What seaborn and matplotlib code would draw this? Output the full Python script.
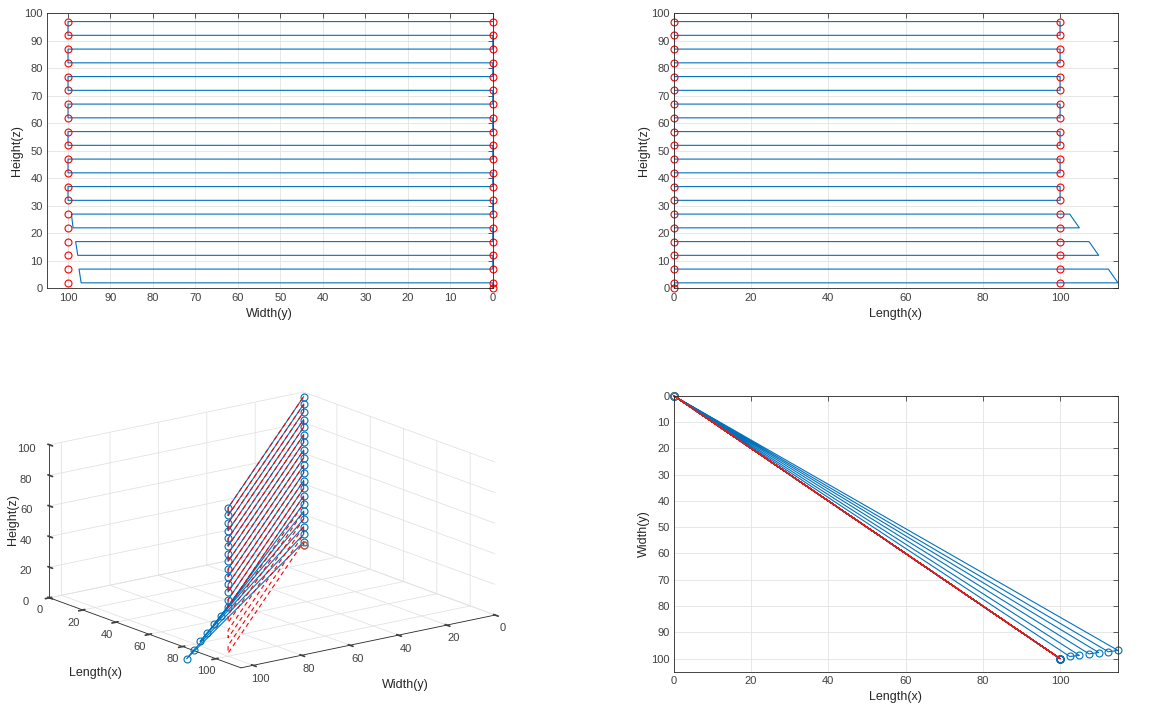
import matplotlib
matplotlib.use('Agg')
import matplotlib.pyplot as plt
import seaborn as sns

# heights (z) of the 20 passes
layer_z = [2, 7, 12, 17, 22, 27, 32, 37, 42, 47, 52, 57, 62, 67, 72, 77, 82, 87, 92, 97]
# where each pass actually ended: length (x) and width (y)
end_x = [115, 112.5, 110, 107.5, 105, 102.5, 100, 100, 100, 100,
         100, 100, 100, 100, 100, 100, 100, 100, 100, 100]
end_y = [96.9, 97.4, 97.7, 98.2, 98.8, 99.2, 100, 100, 100, 100,
         100, 100, 100, 100, 100, 100, 100, 100, 100, 100]
# where each pass should have ended
target_x = [100, 100, 100, 100, 100, 100, 100, 100, 100, 100,
            100, 100, 100, 100, 100, 100, 100, 100, 100, 100]
target_y = [100, 100, 100, 100, 100, 100, 100, 100, 100, 100,
            100, 100, 100, 100, 100, 100, 100, 100, 100, 100]
start_x, start_y, start_z = 0, 0, 0

BLUE = '#0072BD'
RED = '#FF0000'
ORANGE = '#D95319'
TXT = '#262626'


def zigzag(ex, ey):
    # back and forth passes, two layers per loop, returning to the start corner
    xs, ys, zs = [start_x], [start_y], [start_z]
    for k in range(0, len(layer_z), 2):
        pts = [(start_x, start_y, layer_z[k]),
               (ex[k], ey[k], layer_z[k]),
               (ex[k + 1], ey[k + 1], layer_z[k + 1]),
               (start_x, start_y, layer_z[k + 1])]
        for x, y, z in pts:
            xs.append(x)
            ys.append(y)
            zs.append(z)
    return xs, ys, zs


act_x, act_y, act_z = zigzag(end_x, end_y)
ref_x, ref_y, ref_z = zigzag(target_x, target_y)

sns.set_theme(style='white')
plt.rcParams['font.family'] = ['Liberation Sans', 'DejaVu Sans']
plt.rcParams['grid.color'] = '#e3e3e3'
plt.rcParams['grid.linewidth'] = 0.6


def style(ax, xlabel, ylabel):
    ax.set_xlabel(xlabel, fontsize=9, color=TXT, labelpad=4)
    ax.set_ylabel(ylabel, fontsize=9, color=TXT, labelpad=1)
    ax.tick_params(direction='in', top=True, right=True, length=3.5, width=0.6,
                   labelsize=8, colors='#404040', pad=3)
    ax.grid(True, color='#e3e3e3', lw=0.6)
    ax.set_axisbelow(True)
    for s in ax.spines.values():
        s.set_color(TXT)
        s.set_linewidth(0.6)


MS = 5

fig = plt.figure(figsize=(11.63, 7.13), dpi=100)

# Height vs Width
ax1 = fig.add_axes([0.0402, 0.5956, 0.3835, 0.3857])
sns.lineplot(x=act_y, y=act_z, sort=False, estimator=None, color=BLUE, lw=0.8, ax=ax1)
ax1.plot(ref_y, ref_z, 'o', ms=MS, mfc='none', mec=RED, mew=0.8, clip_on=False)
ax1.set_xlim(105, 0)
ax1.set_ylim(0, 100)
ax1.set_xticks(range(0, 101, 10))
ax1.set_yticks(range(0, 101, 10))
style(ax1, 'Width(y)', 'Height(z)')

# Height vs Length
ax2 = fig.add_axes([0.5793, 0.5956, 0.382, 0.3857])
sns.lineplot(x=act_x, y=act_z, sort=False, estimator=None, color=BLUE, lw=0.8, ax=ax2)
ax2.plot(ref_x, ref_z, 'o', ms=MS, mfc='none', mec=RED, mew=0.8, clip_on=False)
ax2.set_xlim(0, 115)
ax2.set_ylim(0, 100)
ax2.set_xticks(range(0, 101, 20))
ax2.set_yticks(range(0, 101, 10))
style(ax2, 'Length(x)', 'Height(z)')

# Width vs Length (top view)
ax4 = fig.add_axes([0.5793, 0.0579, 0.382, 0.3871])
sns.lineplot(x=act_x, y=act_y, sort=False, estimator=None, color=BLUE, lw=0.8,
             marker='o', ms=MS, mfc='none', mec=BLUE, mew=0.8, ax=ax4)
sns.lineplot(x=ref_x, y=ref_y, sort=False, estimator=None, color='#d62020', lw=0.7, ax=ax4)
ax4.plot(ref_x[:1], ref_y[:1], 'o', ms=MS, mfc='none', mec=ORANGE, mew=0.8, clip_on=False)
ax4.set_xlim(0, 115)
ax4.set_ylim(105, 0)
ax4.set_xticks(range(0, 101, 20))
ax4.set_yticks(range(0, 101, 10))
style(ax4, 'Length(x)', 'Width(y)')
for ln in ax4.lines:
    ln.set_clip_on(False)

# 3D view
ax3 = fig.add_axes([-0.02, 0.0, 0.5, 0.5], projection='3d')
ax3.set_proj_type('ortho')
ax3.view_init(elev=16, azim=-37)
ax3.set_box_aspect((2, 2, 1), zoom=1.3)
ax3.plot(act_y, act_x, act_z, '-o', color=BLUE, lw=0.8, ms=MS, mfc='none', mew=0.8)
ax3.plot(ref_x, ref_y, ref_z, '--', color=RED, lw=0.8, dashes=(4, 3))
ax3.plot(ref_x[:1], ref_y[:1], ref_z[:1], 'o', ms=MS, mfc='none', mec=ORANGE, mew=0.8)
ax3.set_xlim(0, 115)
ax3.set_ylim(105, 0)
ax3.set_zlim(0, 100)
ax3.set_xticks(range(0, 101, 20))
ax3.set_yticks(range(0, 101, 20))
ax3.set_zticks(range(0, 101, 20))
ax3.tick_params(labelsize=8, colors='#404040')
ax3.tick_params(axis='x', pad=-3)
ax3.tick_params(axis='y', pad=-3)
ax3.tick_params(axis='z', pad=-1)
ax3.zaxis.set_ticks_position('upper')
ax3.zaxis.set_label_position('upper')
for axis in (ax3.xaxis, ax3.yaxis, ax3.zaxis):
    axis.set_rotate_label(False)
ax3.set_xlabel('Length(x)', fontsize=9, color=TXT, rotation=0, labelpad=5)
ax3.set_ylabel('Width(y)', fontsize=9, color=TXT, rotation=0, labelpad=5)
ax3.set_zlabel('Height(z)', fontsize=9, color=TXT, rotation=90, labelpad=-10)
for axis in (ax3.xaxis, ax3.yaxis, ax3.zaxis):
    axis.set_pane_color((1, 1, 1, 0))
    axis._axinfo['grid']['color'] = '#e3e3e3'
    axis._axinfo['grid']['linewidth'] = 0.6
    axis.line.set_color(TXT)
    axis.line.set_linewidth(0.6)

fig.savefig('out.png', dpi=100)
